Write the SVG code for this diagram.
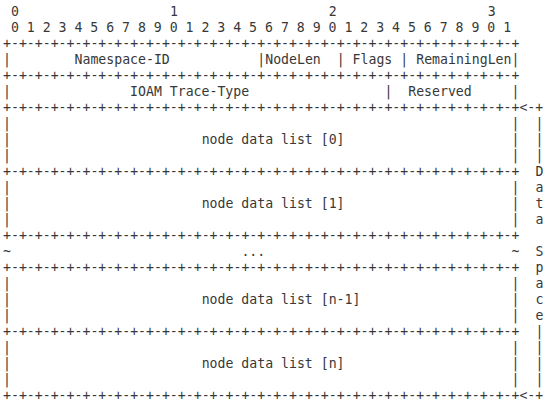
<svg xmlns="http://www.w3.org/2000/svg" width="550" height="405" viewBox="0 0 550 405">
<style>
text{font-family:"DejaVu Sans Mono","Liberation Mono",monospace;font-size:13.2px;fill:#383838;white-space:pre}
</style>
<rect width="550" height="405" fill="#ffffff"/>
<g id="bit-ruler">
<text x="10.95" y="16">0</text>
<text x="169.9" y="16">1</text>
<text x="328.8" y="16">2</text>
<text x="487.7" y="16">3</text>
<text x="10.95" y="32">0 1 2 3 4 5 6 7 8 9 0 1 2 3 4 5 6 7 8 9 0 1 2 3 4 5 6 7 8 9 0 1</text>
</g>
<g id="connectors">
<text x="3" y="48" textLength="516.5" lengthAdjust="spacing">+-+-+-+-+-+-+-+-+-+-+-+-+-+-+-+-+-+-+-+-+-+-+-+-+-+-+-+-+-+-+-+-+</text>
<text x="3" y="80" textLength="516.5" lengthAdjust="spacing">+-+-+-+-+-+-+-+-+-+-+-+-+-+-+-+-+-+-+-+-+-+-+-+-+-+-+-+-+-+-+-+-+</text>
<text x="3" y="112" textLength="516.5" lengthAdjust="spacing">+-+-+-+-+-+-+-+-+-+-+-+-+-+-+-+-+-+-+-+-+-+-+-+-+-+-+-+-+-+-+-+-+</text>
<text x="3" y="176" textLength="516.5" lengthAdjust="spacing">+-+-+-+-+-+-+-+-+-+-+-+-+-+-+-+-+-+-+-+-+-+-+-+-+-+-+-+-+-+-+-+-+</text>
<text x="3" y="240" textLength="516.5" lengthAdjust="spacing">+-+-+-+-+-+-+-+-+-+-+-+-+-+-+-+-+-+-+-+-+-+-+-+-+-+-+-+-+-+-+-+-+</text>
<text x="3" y="272" textLength="516.5" lengthAdjust="spacing">+-+-+-+-+-+-+-+-+-+-+-+-+-+-+-+-+-+-+-+-+-+-+-+-+-+-+-+-+-+-+-+-+</text>
<text x="3" y="336" textLength="516.5" lengthAdjust="spacing">+-+-+-+-+-+-+-+-+-+-+-+-+-+-+-+-+-+-+-+-+-+-+-+-+-+-+-+-+-+-+-+-+</text>
<text x="3" y="400" textLength="516.5" lengthAdjust="spacing">+-+-+-+-+-+-+-+-+-+-+-+-+-+-+-+-+-+-+-+-+-+-+-+-+-+-+-+-+-+-+-+-+</text>
</g>
<g id="field-namespace-id">
<text x="3" y="64">|</text>
<text x="74.5" y="64">Namespace-ID</text>
</g>
<g id="field-nodelen">
<text x="257.3" y="64">|NodeLen</text>
</g>
<g id="field-flags">
<text x="336.7" y="64">| Flags |</text>
</g>
<g id="field-remaininglen">
<text x="416.2" y="64">RemainingLen|</text>
</g>
<g id="field-ioam-trace-type">
<text x="3" y="96">|</text>
<text x="130.1" y="96">IOAM Trace-Type</text>
<text x="384.4" y="96">|</text>
</g>
<g id="field-reserved">
<text x="408.2" y="96">Reserved</text>
<text x="511.5" y="96">|</text>
</g>
<g id="node-data-0">
<text x="3" y="128">|</text><text x="511.5" y="128">|</text>
<text x="3" y="144">|</text><text x="201.65" y="144">node data list [0]</text><text x="511.5" y="144">|</text>
<text x="3" y="160">|</text><text x="511.5" y="160">|</text>
</g>
<g id="node-data-1">
<text x="3" y="192">|</text><text x="511.5" y="192">|</text>
<text x="3" y="208">|</text><text x="201.65" y="208">node data list [1]</text><text x="511.5" y="208">|</text>
<text x="3" y="224">|</text><text x="511.5" y="224">|</text>
</g>
<g id="node-data-ellipsis">
<text x="3" y="256">~</text><text x="241.4" y="256">...</text><text x="511.5" y="256">~</text>
</g>
<g id="node-data-n-1">
<text x="3" y="288">|</text><text x="511.5" y="288">|</text>
<text x="3" y="304">|</text><text x="201.65" y="304">node data list [n-1]</text><text x="511.5" y="304">|</text>
<text x="3" y="320">|</text><text x="511.5" y="320">|</text>
</g>
<g id="node-data-n">
<text x="3" y="352">|</text><text x="511.5" y="352">|</text>
<text x="3" y="368">|</text><text x="201.65" y="368">node data list [n]</text><text x="511.5" y="368">|</text>
<text x="3" y="384">|</text><text x="511.5" y="384">|</text>
</g>
<g id="data-space-bracket">
<text x="519.4" y="112">&lt;-+</text>
<text x="535.4" y="128">|</text>
<text x="535.4" y="144">|</text>
<text x="535.4" y="160">|</text>
<text x="535.4" y="176">D</text>
<text x="535.4" y="192">a</text>
<text x="535.4" y="208">t</text>
<text x="535.4" y="224">a</text>
<text x="535.4" y="256">S</text>
<text x="535.4" y="272">p</text>
<text x="535.4" y="288">a</text>
<text x="535.4" y="304">c</text>
<text x="535.4" y="320">e</text>
<text x="535.4" y="336">|</text>
<text x="535.4" y="352">|</text>
<text x="535.4" y="368">|</text>
<text x="535.4" y="384">|</text>
<text x="519.4" y="400">&lt;-+</text>
</g>
</svg>
